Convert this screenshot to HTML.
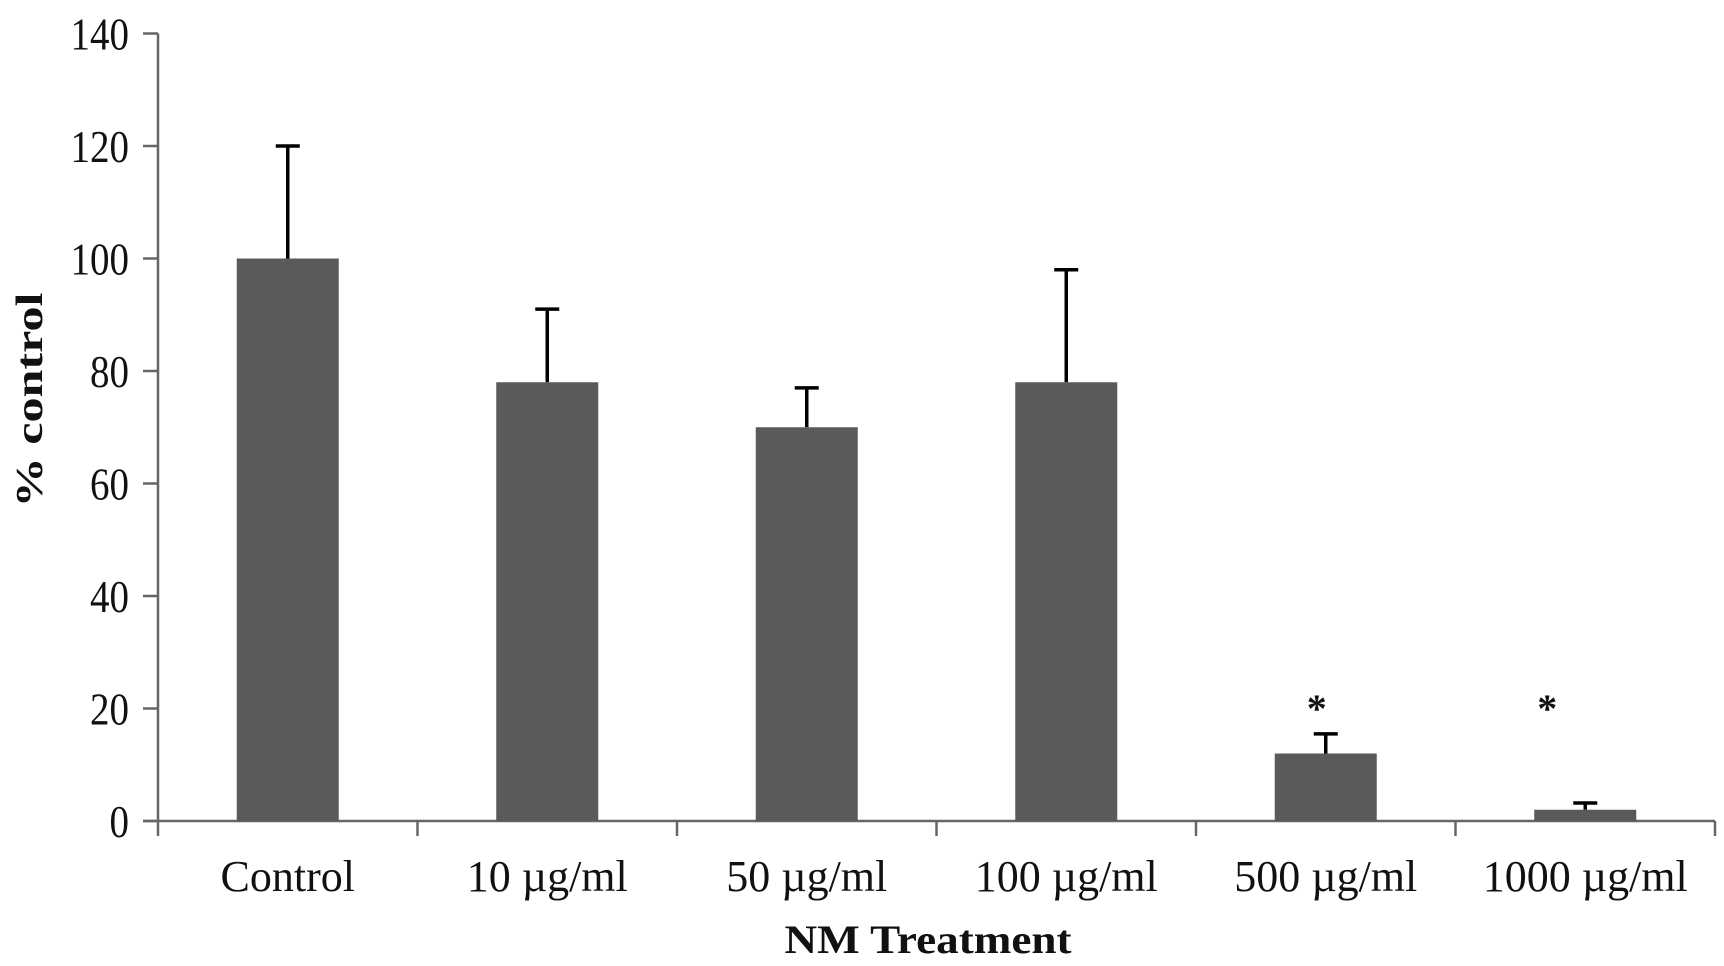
<!DOCTYPE html>
<html><head><meta charset="utf-8"><style>
html,body{margin:0;padding:0;background:#fff;}
svg{display:block;}
text{font-family:"Liberation Serif",serif;fill:#111;}
</style></head><body>
<svg id="chart" width="1724" height="966" viewBox="0 0 1724 966" xmlns="http://www.w3.org/2000/svg">
<g id="axes"></g><g id="bars"></g>
<text x="928" y="953" text-anchor="middle" font-size="40" font-weight="bold" textLength="287" lengthAdjust="spacingAndGlyphs">NM Treatment</text>
<text transform="translate(42,400) rotate(-90)" text-anchor="middle" font-size="38" font-weight="bold" textLength="215" lengthAdjust="spacingAndGlyphs">%   control</text>
</svg>
<script>
const categories = ["Control","10 µg/ml","50 µg/ml","100 µg/ml","500 µg/ml","1000 µg/ml"];
const values = [100,78,70,78,12,2];
const errors = [20,13,7,20,3.5,1.2];
const significant = [false,false,false,false,true,true];
const yTicks = [0,20,40,60,80,100,120,140];

const NS="http://www.w3.org/2000/svg";
const x0=158, catW=259.5, yBase=821, yTop=33.5, yMax=140;
const y=v=>yBase-(v/yMax)*(yBase-yTop);
const xc=i=>x0+catW*(i+0.5);
const starOffset=[0,0,0,0,-9,-38];
function mk(tag,attrs,parent,txt){const e=document.createElementNS(NS,tag);for(const k in attrs)e.setAttribute(k,attrs[k]);if(txt!==undefined)e.textContent=txt;parent.appendChild(e);return e;}
const axes=document.getElementById('axes'), bars=document.getElementById('bars');
const stroke='#666';
let e=mk('line',{x1:x0,y1:yTop,x2:x0,y2:yBase,stroke:stroke,'stroke-width':2.5},axes);


e=mk('line',{x1:x0-15,y1:yBase,x2:x0+catW*categories.length,y2:yBase,stroke:stroke,'stroke-width':2.5},axes);


yTicks.forEach(t=>{
  let l=mk('line',{x1:x0-15,y1:y(t),x2:x0,y2:y(t),stroke:stroke,'stroke-width':2.5},axes);
  
  
  const s=String(t);
  let tx=mk('text',{x:129,y:y(t)+16,'text-anchor':'end','font-size':46,textLength:s.length*19.5,lengthAdjust:'spacingAndGlyphs'},axes,s);
  
  
});
for(let i=0;i<=categories.length;i++){
  let l=mk('line',{x1:x0+catW*i,y1:yBase,x2:x0+catW*i,y2:yBase+15,stroke:stroke,'stroke-width':2.5},axes);
  
  
}
categories.forEach((c,i)=>{
  let tx=mk('text',{x:xc(i),y:891,'text-anchor':'middle','font-size':44},axes,c);
  
  
  const bw=102;
  let ex=mk('line',{x1:xc(i),y1:y(values[i]),x2:xc(i),y2:y(values[i]+errors[i]),stroke:'#000','stroke-width':3.5},bars);
  
  
  let cap=mk('line',{x1:xc(i)-12,y1:y(values[i]+errors[i]),x2:xc(i)+12,y2:y(values[i]+errors[i]),stroke:'#000','stroke-width':3.5},bars);
  
  
  let r=mk('rect',{x:xc(i)-bw/2,y:y(values[i]),width:bw,height:yBase-y(values[i]),fill:'#5a5a5a'},bars);
  
  
  if(significant[i]){
    let a=mk('text',{x:xc(i)+starOffset[i],y:722,'text-anchor':'middle','font-size':40,'font-weight':'bold'},bars,'*');
    
    
  }
});
</script>
</body></html>
